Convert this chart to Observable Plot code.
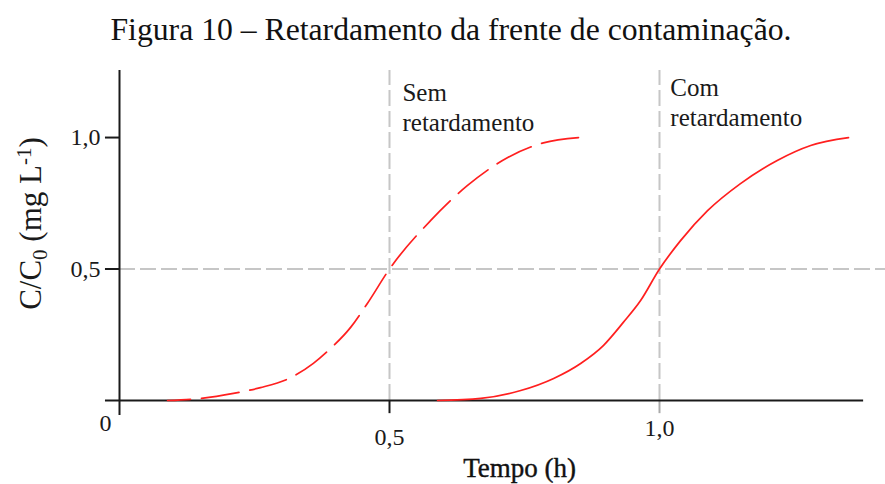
<!DOCTYPE html>
<html>
<head>
<meta charset="utf-8">
<script src="https://cdn.jsdelivr.net/npm/d3@7"></script>
<script src="https://cdn.jsdelivr.net/npm/@observablehq/plot@0.6"></script>
<style>
  html, body { margin: 0; padding: 0; background: #fff; }
  #title { height: 58px; line-height: 60px; font-family: "Liberation Serif", "Times New Roman", serif; font-size: 31.7px; color: #111; text-align: center; padding-left: 17px; box-sizing: border-box; width: 885px; white-space: nowrap; }
  #chart svg { display: block; }
</style>
</head>
<body>
<div id="title">Figura 10 – Retardamento da frente de contaminação.</div>
<div id="chart"></div>
<script>
// Data
const tempoSem = [0.089, 0.15, 0.211, 0.261, 0.317, 0.359, 0.391, 0.428, 0.459, 0.5, 0.576, 0.644, 0.719, 0.785, 0.85];
const concSem  = [0, 0.008, 0.027, 0.049, 0.087, 0.141, 0.198, 0.278, 0.369, 0.5, 0.684, 0.817, 0.924, 0.98, 1.0];
const tempoCom = [0.589, 0.669, 0.743, 0.804, 0.854, 0.896, 0.933, 0.965, 1.0, 1.039, 1.089, 1.15, 1.218, 1.28, 1.35];
const concCom  = [0, 0.008, 0.038, 0.084, 0.141, 0.209, 0.297, 0.38, 0.5, 0.608, 0.722, 0.825, 0.913, 0.97, 1.0];
const xTicks = [0.5, 1.0];
const xTickLabels = ["0,5", "1,0"];
const yTicks = [0.5, 1.0];
const yTickLabels = ["0,5", "1,0"];
const seriesLabels = ["Sem retardamento", "Com retardamento"];
const xTitle = "Tempo (h)";
const yTitle = "C/C0 (mg L-1)";

const sem = tempoSem.map((t, i) => ({t, c: concSem[i]}));
const com = tempoCom.map((t, i) => ({t, c: concCom[i]}));

const red = "#ff1f1f";
const grid = "#c6c6c6";
const ink = "#1a1a1a";

const plot = Plot.plot({
  width: 885,
  height: 426,
  marginLeft: 119,
  marginRight: 10,
  marginTop: 12,
  marginBottom: 84,
  x: {domain: [0, 1.4], axis: null},
  y: {domain: [0, 1.255], axis: null},
  style: {fontFamily: "Liberation Serif, Times New Roman, serif", fontSize: "24px", color: ink, background: "transparent", overflow: "visible"},
  marks: [
    // reference dashed gray lines
    Plot.ruleX(xTicks, {y1: 0, y2: 1.255, stroke: grid, strokeWidth: 2, strokeDasharray: "16,5"}),
    Plot.ruleY([0.5], {x1: 0, x2: 1.4185, stroke: grid, strokeWidth: 2, strokeDasharray: "16,5"}),
    // x tick marks below the axis
    Plot.ruleX(xTicks, {y1: -0.05, y2: 0, stroke: (d) => d === 1.0 ? "#aaa" : ink, strokeWidth: 2}),
    // axes
    Plot.ruleY([0], {x1: -0.026, x2: 1.378, stroke: ink, strokeWidth: 2}),
    Plot.ruleX([0], {y1: -0.057, y2: 1.255, stroke: ink, strokeWidth: 2}),
    Plot.ruleY(yTicks, {x1: -0.026, x2: 0, stroke: ink, strokeWidth: 2}),
    // curves
    Plot.line(sem, {x: "t", y: "c", stroke: red, strokeWidth: 1.7, curve: "monotone-x", strokeDasharray: "38,11", strokeDashoffset: 15}),
    Plot.line(com, {x: "t", y: "c", stroke: red, strokeWidth: 1.7, curve: "monotone-x"}),
    // tick labels
    Plot.text(yTicks, {x: -0.035, y: (d) => d, text: (d, i) => yTickLabels[i], textAnchor: "end", lineAnchor: "middle", fontSize: 24, fill: ink}),
    Plot.text(xTicks, {x: (d) => d, y: (d) => d === 1.0 ? -0.106 : -0.14, text: (d, i) => xTickLabels[i], textAnchor: "middle", lineAnchor: "middle", fontSize: 24, fill: ink}),
    Plot.text(["0"], {x: -0.026, y: -0.087, text: (d) => d, textAnchor: "middle", lineAnchor: "middle", fontSize: 24, fill: ink}),
    // axis titles
    Plot.text([xTitle], {x: 0.741, y: -0.259, text: (d) => d, textAnchor: "middle", lineAnchor: "middle", fontSize: 27, fill: "#111", stroke: "#111", strokeWidth: 0.4}),
    Plot.text([yTitle], {x: -0.163, y: 0.673, text: (d) => d, rotate: -90, textAnchor: "middle", lineAnchor: "middle", fontSize: 31, fill: ink}),
    // series annotations
    Plot.text(seriesLabels.slice(0, 1), {x: 0.524, y: 1.171, text: (d) => d.split(" ")[0], textAnchor: "start", lineAnchor: "middle", fontSize: 25, fill: ink}),
    Plot.text(seriesLabels.slice(0, 1), {x: 0.524, y: 1.057, text: (d) => d.split(" ")[1], textAnchor: "start", lineAnchor: "middle", fontSize: 25, fill: ink}),
    Plot.text(seriesLabels.slice(1, 2), {x: 1.02, y: 1.19, text: (d) => d.split(" ")[0], textAnchor: "start", lineAnchor: "middle", fontSize: 25, fill: ink}),
    Plot.text(seriesLabels.slice(1, 2), {x: 1.02, y: 1.076, text: (d) => d.split(" ")[1], textAnchor: "start", lineAnchor: "middle", fontSize: 25, fill: ink})
  ]
});
document.getElementById("chart").appendChild(plot);

// Typeset subscript 0 and superscript -1 in the y title
d3.select(plot).selectAll("text").each(function() {
  if (this.textContent === yTitle) {
    const el = d3.select(this);
    el.text(null);
    el.append("tspan").text("C/C");
    el.append("tspan").attr("font-size", "21").attr("dy", "6").text("0");
    el.append("tspan").attr("dy", "-6").text(" (mg L");
    el.append("tspan").attr("font-size", "21").attr("dy", "-10").text("-1");
    el.append("tspan").attr("dy", "10").text(")");
  }
});
</script>
</body>
</html>
